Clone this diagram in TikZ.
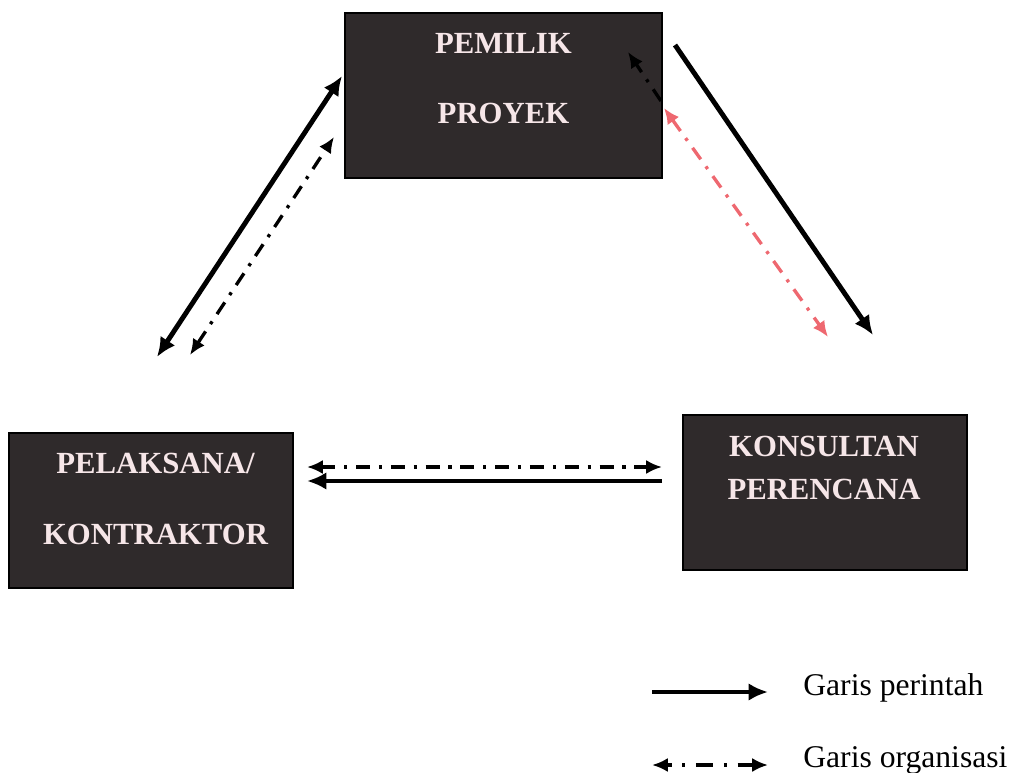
\documentclass[tikz,border=0pt]{standalone}
\usepackage{fontspec}
\setmainfont{Liberation Serif}
\usetikzlibrary{arrows.meta}
\definecolor{boxfill}{RGB}{47,42,43}
\definecolor{boxtext}{RGB}{246,230,232}
\definecolor{redline}{RGB}{238,104,112}
\tikzset{
  orgbox/.style={draw=black, line width=0.8pt, fill=boxfill, rectangle, inner sep=0pt},
  boxlabel/.style={text=boxtext, font=\fontsize{17.5}{20}\selectfont\bfseries, inner sep=0pt},
  legtext/.style={font=\fontsize{18}{21}\selectfont, anchor=west, inner sep=0pt},
  cmdline/.style={line width=2.8pt, black},
  cmdtip/.style={-{Latex[length=11pt,width=10pt]}},
  cmdtips/.style={{Latex[length=11pt,width=10pt]}-{Latex[length=11pt,width=10pt]}},
  orgline/.style={line width=1.9pt, dash pattern=on 8pt off 5pt on 1.8pt off 5pt},
  orgtip/.style={-{Latex[length=9pt,width=8pt]}},
  orgtips/.style={{Latex[length=9pt,width=8pt]}-{Latex[length=9pt,width=8pt]}},
}
\begin{document}
\begin{tikzpicture}[x=0.02cm,y=-0.02cm]
\useasboundingbox (0,0) rectangle (1013,773);

% boxes
\node[orgbox, minimum width=317*0.02cm, minimum height=165*0.02cm] (pemilik) at (503.5,95.5) {};
\node[boxlabel] (pemilikA) at (503.5,43) {PEMILIK};
\node[boxlabel] (pemilikB) at (503.5,113) {PROYEK};

\node[orgbox, minimum width=284*0.02cm, minimum height=155*0.02cm] (pelaksana) at (151,510.5) {};
\node[boxlabel] (pelaksanaA) at (155.5,463) {PELAKSANA/};
\node[boxlabel] (pelaksanaB) at (155.5,534) {KONTRAKTOR};

\node[orgbox, minimum width=284*0.02cm, minimum height=155*0.02cm] (konsultan) at (825,492.5) {};
\node[boxlabel] (konsultanA) at (824,446) {KONSULTAN};
\node[boxlabel] (konsultanB) at (824,489) {PERENCANA};

% connector end points
\coordinate (pUL) at (342,76);
\coordinate (kUL) at (157,357);
\coordinate (pUL2) at (334,137);
\coordinate (kUL2) at (190,355);
\coordinate (pUR) at (675,45);
\coordinate (sUR) at (873,335);
\coordinate (pIn) at (628,52);
\coordinate (pEdge) at (661,101);
\coordinate (pEdgeR) at (664,108);
\coordinate (sUR2) at (828,337);
\coordinate (hL1) at (307,467);
\coordinate (hR1) at (662,467);
\coordinate (hL2) at (307,481);
\coordinate (hR2) at (662,481);

% owner <-> contractor
\draw[cmdline, cmdtips] (kUL) -- (pUL);
\draw[orgline, orgtips] (kUL2) -- (pUL2);

% owner -> consultant
\draw[cmdline, cmdtip] (pUR) -- (sUR);
\draw[orgline, orgtip] (pEdge) -- (pIn);
\draw[orgline, redline, orgtips] (pEdgeR) -- (sUR2);

% consultant <-> contractor
\draw[orgline, orgtips] (hL1) -- (hR1);
\draw[cmdline, cmdtip] (hR2) -- (hL2);

% legend
\coordinate (l1a) at (652,692);
\coordinate (l1b) at (768,692);
\coordinate (l2a) at (652,765);
\coordinate (l2b) at (768,765);
\draw[cmdline, cmdtip] (l1a) -- (l1b);
\draw[orgline, orgtips, dash pattern=on 3pt off 6pt on 1.8pt off 6pt on 10pt off 6pt on 1.8pt off 6pt on 20pt off 0pt] (l2a) -- (l2b);
\node[legtext] (leg1) at (803,688) {Garis perintah};
\node[legtext] (leg2) at (803,760) {Garis organisasi};
\end{tikzpicture}
\end{document}
